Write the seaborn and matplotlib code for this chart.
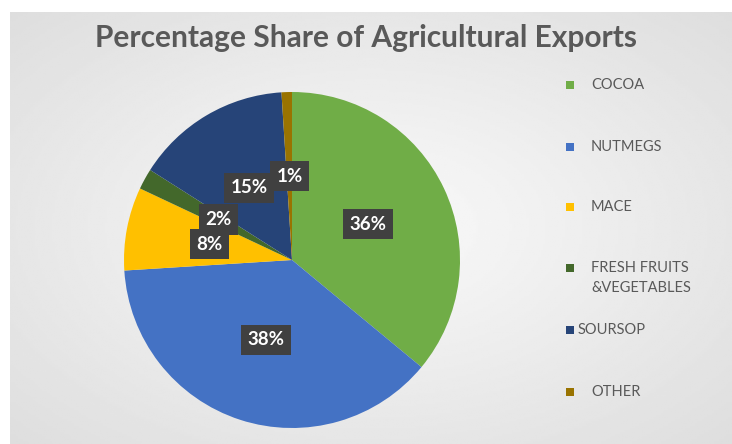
import numpy as np
import matplotlib
matplotlib.use("Agg")
import matplotlib.pyplot as plt
import seaborn as sns

# Export categories and their percentage shares
categories = ["COCOA", "NUTMEGS", "MACE", "FRESH FRUITS\n&VEGETABLES", "SOURSOP", "OTHER"]
shares = [36, 38, 8, 2, 15, 1]
slice_colors = ["#70AD47", "#4472C4", "#FFC000", "#43682B", "#264478", "#997300"]
title_text = "Percentage Share of Agricultural Exports"

sns.set_theme(style="white")
plt.rcParams["font.family"] = ["Lato", "DejaVu Sans"]
palette = sns.color_palette(slice_colors)

W, H = 732, 444
fig = plt.figure(figsize=(W / 100, H / 100), dpi=100, facecolor="white")

# Light grey panel with a soft radial brightening towards the middle
bg = fig.add_axes([10 / W, 0, (W - 10) / W, (H - 12) / H])
yy, xx = np.mgrid[0:1:200j, 0:1:300j]
dist = np.sqrt(((xx - 0.5) / 0.7) ** 2 + ((yy - 0.5) / 0.7) ** 2)
shade = np.clip(0.98 - 0.11 * dist, 0, 1)
bg.imshow(shade, cmap="gray", vmin=0, vmax=1, aspect="auto", extent=[0, 1, 0, 1])
bg.set_axis_off()

fig.text(366 / W, 1 - 38 / H, title_text, ha="center", va="center",
         fontsize=21.5, fontweight="bold", color="#595959")

# Pie
R = 168
cx, cy = 292, 260
ax = fig.add_axes([(cx - R) / W, (H - cy - R) / H, 2 * R / W, 2 * R / H])
wedges, texts, autotexts = ax.pie(
    shares, colors=palette, startangle=90, counterclock=False,
    autopct=lambda p: f"{p:.0f}%", pctdistance=0.5,
    wedgeprops=dict(linewidth=0),
    textprops=dict(color="white", fontsize=13.5, fontweight="bold"),
)
for t in autotexts:
    t.set_bbox(dict(boxstyle="square,pad=0.35", facecolor="#404040", edgecolor="none"))
ax.set_aspect("equal")
ax.set_xlim(-1, 1)
ax.set_ylim(-1, 1)
ax.set_axis_off()

# Legend entries: colour squares with labels beside them
legend_rows = [85, 147, 207, 268, 330, 392]
text_x = [591, 591, 591, 591, 578, 591]
for name, col, y, tx in zip(categories, palette, legend_rows, text_x):
    fig.patches.append(plt.Rectangle((566 / W, 1 - (y + 4) / H), 8 / W, 8 / H,
                                     transform=fig.transFigure, facecolor=col,
                                     edgecolor="none"))
    fig.text(tx / W, 1 - (y - 7) / H, name, ha="left", va="top",
             fontsize=10.5, color="#595959", linespacing=1.5)

fig.savefig("out.png", dpi=100, facecolor="white")
